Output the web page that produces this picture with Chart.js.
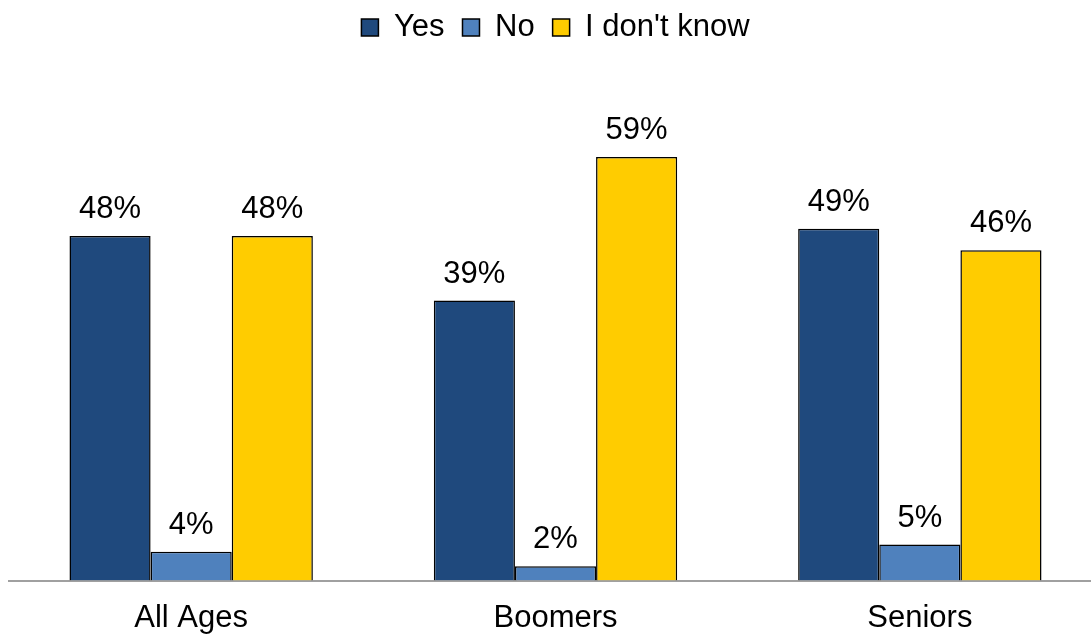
<!DOCTYPE html>
<html>
<head>
<meta charset="utf-8">
<script src="https://cdn.jsdelivr.net/npm/chart.js@4/dist/chart.umd.min.js"></script>
<style>
html,body{margin:0;padding:0;background:#fff;overflow:hidden}
#wrap{width:1110px;height:634px}
</style>
</head>
<body>
<div id="wrap"><canvas id="c" width="1110" height="634"></canvas></div>
<script>
const categories=['All Ages','Boomers','Seniors'];
const yes=[48,39,49];
const no=[4,2,5];
const dontKnow=[48,59,46];

const FONT='"Liberation Sans", Arial, sans-serif';

// value labels above each bar
const valueLabels={id:'valueLabels',afterDatasetsDraw(chart){
const ctx=chart.ctx;
ctx.save();
ctx.font='31px '+FONT;
ctx.fillStyle='#000';ctx.textAlign='center';ctx.textBaseline='alphabetic';
chart.data.datasets.forEach((ds,i)=>{
chart.getDatasetMeta(i).data.forEach((bar,j)=>{
ctx.fillText(ds.data[j]+'%',bar.x,bar.y-18);
});
});
ctx.restore();
}};

new Chart(document.getElementById('c'),{
type:'bar',
data:{labels:categories,datasets:[
{label:'Yes',data:yes,backgroundColor:'#1F497D',borderColor:'#000',borderWidth:1.5},
{label:'No',data:no,backgroundColor:'#4F81BD',borderColor:'#000',borderWidth:1.5},
{label:"I don't know",data:dontKnow,backgroundColor:'#FFCC00',borderColor:'#000',borderWidth:1.5}
]},
options:{
responsive:false,animation:false,
layout:{padding:{left:9,right:8,top:-6,bottom:-21.7}},
datasets:{bar:{categoryPercentage:0.668,barPercentage:1}},
plugins:{
legend:{position:'top',labels:{boxWidth:17,boxHeight:17,padding:18,color:'#000',font:{family:FONT,size:31}}},
tooltip:{enabled:false}
},
scales:{
x:{grid:{display:false,drawTicks:false},border:{color:'#a0a0a0',width:2},
ticks:{padding:19,color:'#000',font:{family:FONT,size:31}}},
y:{display:false,min:0,max:73.5}
}
},
plugins:[valueLabels]
});
</script>
</body>
</html>
